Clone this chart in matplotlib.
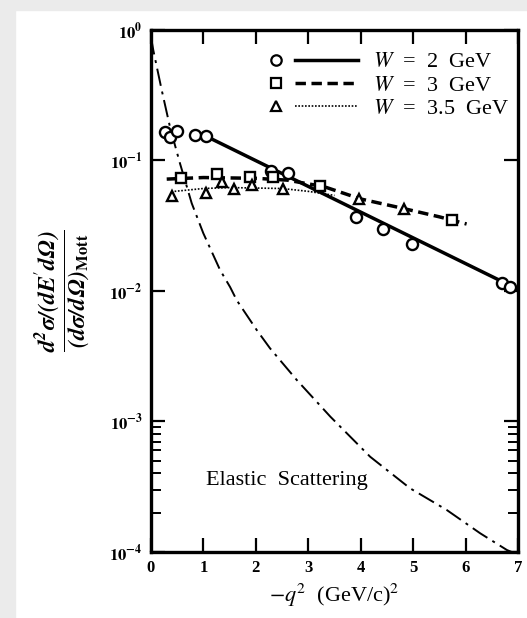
import matplotlib
matplotlib.use("Agg")
import matplotlib.pyplot as plt
from matplotlib.lines import Line2D
from matplotlib.legend_handler import HandlerBase
from matplotlib.patches import Rectangle
from matplotlib.ticker import FixedLocator, NullFormatter

plt.rcParams['font.family'] = ['Liberation Serif', 'DejaVu Serif']
plt.rcParams['mathtext.fontset'] = 'stix'

# data
w2_x = [0.27, 0.36, 0.50, 0.84, 1.05, 2.29, 2.62, 3.91, 4.43, 4.98, 6.70, 6.85]
w2_y = [0.165, 0.151, 0.168, 0.157, 0.154, 0.083, 0.080, 0.037, 0.030, 0.023, 0.0115, 0.0107]
w2_fit_x = [1.1, 7.0]
w2_fit_y = [0.150, 0.0103]

w3_x = [0.57, 1.25, 1.89, 2.33, 3.23, 5.74]
w3_y = [0.0738, 0.0784, 0.0751, 0.075, 0.0638, 0.035]
w3_fit_x = [0.3, 1.0, 2.0, 2.6, 3.3, 4.0, 4.8, 5.5, 6.02]
w3_fit_y = [0.072, 0.074, 0.073, 0.0707, 0.063, 0.0507, 0.043, 0.037, 0.0326]

w35_x = [0.40, 1.04, 1.35, 1.59, 1.92, 2.51, 3.96, 4.83]
w35_y = [0.0535, 0.0561, 0.0688, 0.0601, 0.0649, 0.0605, 0.0504, 0.0423]
w35_fit_x = [0.45, 1.0, 1.5, 2.5, 3.0, 3.5]
w35_fit_y = [0.058, 0.061, 0.062, 0.061, 0.058, 0.054]

el_x = [0.0, 0.044, 0.204, 0.363, 0.553, 0.777, 0.998, 1.317, 1.51, 1.635, 2.017, 2.27,
        2.78, 3.42, 4.18, 4.94, 5.64, 6.28, 6.79, 6.88]
el_y = [0.88, 0.70, 0.347, 0.18, 0.095, 0.047, 0.0277, 0.0145, 0.0107, 0.0085, 0.00502, 0.00364,
        0.00208, 0.00109, 5.37e-4, 3.08e-4, 2.1e-4, 1.39e-4, 1.035e-4, 1.0e-4]

xticks = [0, 1, 2, 3, 4, 5, 6, 7]
yticks = [1e-4, 1e-3, 1e-2, 1e-1, 1e0]
ytick_labels = [r'$\mathbf{10^{-4}}$', r'$\mathbf{10^{-3}}$', r'$\mathbf{10^{-2}}$',
                r'$\mathbf{10^{-1}}$', r'$\mathbf{10^{0}}$']

DASHED = (0, (3, 1.6))
DOTTED = (0, (1, 1))


class MarkThenLine(HandlerBase):
    # marker on the left, a short stretch of line to the right of it
    def create_artists(self, legend, orig_handle, xdescent, ydescent, width, height,
                       fontsize, trans):
        mark, line = orig_handle
        y = height / 2 - ydescent
        m = Line2D([-xdescent + 0.08 * width], [y], marker=mark.get_marker(), ls='none',
                   mfc='white', mec='k', mew=1.6, ms=mark.get_markersize())
        l = Line2D([-xdescent + 0.30 * width, -xdescent + width], [y, y])
        l.update_from(line)
        for a in (m, l):
            a.set_transform(trans)
        return [m, l]


fig = plt.figure(figsize=(5.27, 6.18), dpi=100)
fig.patches.append(Rectangle((0, 0), 15 / 527, 1, transform=fig.transFigure,
                             color='#ebebeb', zorder=0))
fig.patches.append(Rectangle((0, 1 - 10 / 618), 1, 10 / 618, transform=fig.transFigure,
                             color='#ebebeb', zorder=0))
ax = fig.add_axes([0.2865, 0.1068, 0.6964, 0.8447])

ax.plot(el_x, el_y, color='k', lw=1.4, dashes=(9, 3, 1.5, 3))

ax.plot(w2_fit_x, w2_fit_y, color='k', lw=2.5)
ax.plot(w3_fit_x, w3_fit_y, color='k', lw=2.5, ls=DASHED)
ax.plot(w35_fit_x, w35_fit_y, color='k', lw=1.2, ls=DOTTED)

mk = dict(ls='none', mfc='white', mec='k', mew=1.7, ms=8)
ax.plot(w2_x, w2_y, marker='o', **mk)
ax.plot(w3_x, w3_y, marker='s', **dict(mk, ms=7))
ax.plot(w35_x, w35_y, marker='^', **dict(mk, ms=7.5))

ax.set_yscale('log')
ax.set_xlim(0, 7)
ax.set_ylim(1e-4, 1e0)
ax.set_xticks(xticks)
ax.set_xticklabels([str(t) for t in xticks], fontweight='bold')
ax.set_yticks(yticks)
ax.set_yticklabels(ytick_labels)
ax.yaxis.set_minor_locator(FixedLocator([k * 1e-4 for k in range(2, 10)]))
ax.yaxis.set_minor_formatter(NullFormatter())
ax.tick_params(which='both', direction='in', top=True, right=True, labelsize=12, pad=6)
ax.tick_params(which='major', length=10, width=1.6)
ax.tick_params(which='minor', length=7, width=1.4)
for s in ax.spines.values():
    s.set_linewidth(2.4)

ax.set_xlabel(r'$-q^2$  (GeV/c)$^2$', fontsize=16, labelpad=4)
ax.set_ylabel(r"$\dfrac{\mathbfit{d^2\sigma/(dE}'\mathbfit{d\Omega)}}"
              r"{\mathbfit{(d\sigma/d\Omega)}_{\mathbf{Mott}}}$",
              fontsize=17)
ax.yaxis.set_label_coords(-0.16, 0.5)

ax.text(2.6, 3.5e-4, 'Elastic  Scattering', fontsize=16, ha='center', va='center')

handles = [(Line2D([], [], marker='o', ms=7.5), Line2D([], [], color='k', lw=2.5)),
           (Line2D([], [], marker='s', ms=7), Line2D([], [], color='k', lw=2.5, ls=DASHED)),
           (Line2D([], [], marker='^', ms=7.5), Line2D([], [], color='k', lw=1.2, ls=DOTTED))]
labels = [r'$W$  =  2  GeV', r'$W$  =  3  GeV', r'$W$  =  3.5  GeV']
ax.legend(handles, labels, handler_map={tuple: MarkThenLine()},
          loc='upper right', frameon=False, fontsize=16, handlelength=4.0,
          handletextpad=0.7, labelspacing=0.12, borderaxespad=0.0,
          bbox_to_anchor=(1.0, 0.975))

fig.savefig('out.png', dpi=100, facecolor='white')
